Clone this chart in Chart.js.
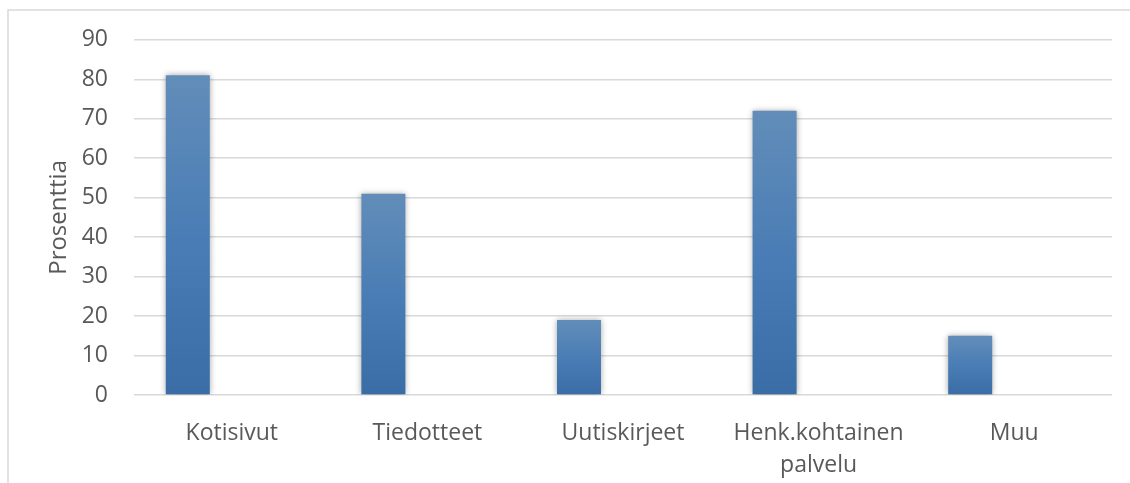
<!DOCTYPE html>
<html>
<head>
<meta charset="utf-8">
<script src="https://cdn.jsdelivr.net/npm/chart.js@4/dist/chart.umd.min.js"></script>
<style>
  body { margin: 0; background: #fff; }
  #wrap { width: 1130px; height: 483px; }
</style>
</head>
<body>
<div id="wrap"><canvas id="chart" width="1130" height="483"></canvas></div>
<script>
// data
var categories = ['Kotisivut', 'Tiedotteet', 'Uutiskirjeet', ['Henk.kohtainen', 'palvelu'], 'Muu'];
var percentages = [81, 51, 19, 72, 15];
var emptySeries = [null, null, null, null, null];
var yTicks = [0, 10, 20, 30, 40, 50, 60, 70, 80, 90];

var textColor = '#595959';
var gridColor = '#d9d9d9';

// each bar gets its own top-to-bottom gradient like the office chart
function barGradient(c) {
  var chart = c.chart;
  if (!chart.chartArea || c.raw == null) return '#4a7db5';
  var y = chart.scales.y;
  var top = y.getPixelForValue(c.raw);
  var bottom = y.getPixelForValue(0);
  var g = chart.ctx.createLinearGradient(0, top, 0, bottom);
  g.addColorStop(0, '#628db9');
  g.addColorStop(0.5, '#4a7db5');
  g.addColorStop(1, '#3a6da5');
  return g;
}

var framePlugin = {
  id: 'frame',
  beforeDraw: function(chart) {
    var ctx = chart.ctx;
    ctx.save();
    ctx.strokeStyle = gridColor;
    ctx.lineWidth = 1.5;
    ctx.beginPath();
    ctx.moveTo(8, chart.height);
    ctx.lineTo(8, 10);
    ctx.lineTo(chart.width, 10);
    ctx.stroke();
    ctx.restore();
  }
};

var shadowPlugin = {
  id: 'barShadow',
  beforeDatasetsDraw: function(chart) {
    var ctx = chart.ctx;
    ctx.save();
    ctx.shadowColor = 'rgba(0,0,0,0.35)';
    ctx.shadowBlur = 6;
    ctx.shadowOffsetX = 0;
    ctx.shadowOffsetY = 0;
  },
  afterDatasetsDraw: function(chart) {
    chart.ctx.restore();
  }
};

var ctx = document.getElementById('chart').getContext('2d');
var chart = new Chart(ctx, {
  type: 'bar',
  data: {
    labels: categories,
    datasets: [{
      label: 'Prosenttia',
      data: percentages,
      backgroundColor: barGradient,
      borderWidth: 0
    }, {
      label: '',
      data: emptySeries
    }, {
      label: '',
      data: emptySeries
    }]
  },
  options: {
    responsive: false,
    animation: false,
    devicePixelRatio: 1,
    layout: { padding: { top: 39, right: 18, bottom: 0, left: 0 } },
    datasets: {
      bar: { categoryPercentage: 0.675, barPercentage: 1 }
    },
    plugins: {
      legend: { display: false },
      tooltip: { enabled: false }
    },
    scales: {
      x: {
        grid: { display: false },
        border: { display: false },
        ticks: {
          color: textColor,
          padding: 14,
          maxRotation: 0,
          autoSkip: false,
          font: { family: 'Open Sans', size: 23, lineHeight: 1.4 }
        },
        afterFit: function(scale) { scale.height = 88; }
      },
      y: {
        min: 0,
        max: 90,
        afterBuildTicks: function(scale) {
          scale.ticks = yTicks.map(function(v) { return { value: v }; });
        },
        grid: { color: gridColor, lineWidth: 1.5, drawTicks: false },
        border: { display: false },
        ticks: {
          color: textColor,
          padding: 26,
          font: { family: 'Open Sans', size: 23 }
        },
        title: {
          display: true,
          text: 'Prosenttia',
          color: textColor,
          padding: { top: 45, bottom: 0 },
          font: { family: 'Open Sans', size: 24 }
        },
        afterFit: function(scale) { scale.width = 134; }
      }
    }
  },
  plugins: [framePlugin, shadowPlugin]
});
</script>
</body>
</html>
